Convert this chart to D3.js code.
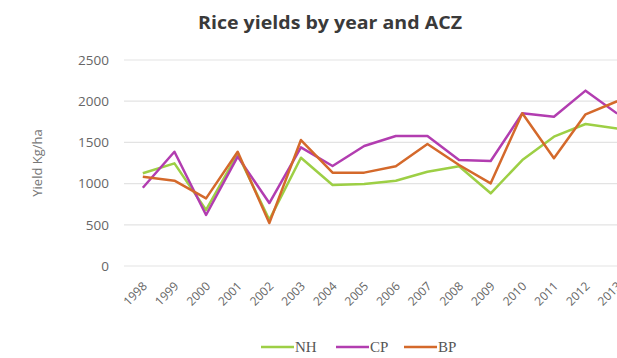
<!DOCTYPE html>
<html><head><meta charset="utf-8">
<script src="https://cdn.jsdelivr.net/npm/d3@7"></script>
<style>body{margin:0;overflow:hidden;background:#fff}</style>
</head><body>
<script>
const years = ["1998","1999","2000","2001","2002","2003","2004","2005","2006","2007","2008","2009","2010","2011","2012","2013"];
const NH = [1125,1246,680,1360,560,1314,983,995,1035,1144,1210,882,1286,1570,1723,1667];
const CP = [950,1387,619,1327,764,1440,1214,1456,1578,1578,1286,1274,1853,1812,2128,1850];
const BP = [1084,1035,821,1387,521,1529,1133,1133,1210,1480,1226,1003,1853,1307,1841,2000];
const yTicks = [0,500,1000,1500,2000,2500];
const seriesNames = ["NH","CP","BP"];
const colors = {NH:"#9DCF45", CP:"#B23DB0", BP:"#D4692B"};
const seriesData = {NH, CP, BP};

const svg = d3.select("body").append("svg").attr("width",640).attr("height",358);
const x = d3.scaleBand().domain(years).range([127,633]);
const y = d3.scaleLinear().domain([0,2500]).range([266,60]);
const cx = d => x(d) + x.bandwidth()/2;

svg.append("text").attr("x",330).attr("y",29).attr("text-anchor","middle")
  .attr("font-family","'Open Sans', sans-serif").attr("font-weight","bold").attr("font-size",18)
  .attr("textLength",264).attr("lengthAdjust","spacingAndGlyphs")
  .attr("fill","#3a3a3a").text("Rice yields by year and ACZ");

// grid
svg.append("g").selectAll("line").data(yTicks).join("line")
  .attr("x1",124).attr("x2",640).attr("y1",d=>y(d)).attr("y2",d=>y(d))
  .attr("stroke","#e3e3e3").attr("stroke-width",1.2);

// y axis labels
const ya = svg.append("g").attr("transform","translate(109,0)")
  .call(d3.axisLeft(y).tickValues(yTicks).tickFormat(d3.format("d")).tickSize(0).tickPadding(0));
ya.select(".domain").remove();
ya.selectAll("text").attr("font-family","'Open Sans', sans-serif").attr("font-size",13.5).attr("fill","#666");

svg.append("text").attr("transform","translate(42,163) rotate(-90)").attr("text-anchor","middle")
  .attr("font-family","'Open Sans', sans-serif").attr("font-size",13).attr("fill","#777").text("Yield Kg/ha");

// x axis labels
const xa = svg.append("g").attr("transform","translate(0,266)")
  .call(d3.axisBottom(x).tickSize(0).tickPadding(0));
xa.select(".domain").remove();
xa.selectAll("text").attr("font-family","'Open Sans', sans-serif").attr("font-size",12).attr("fill","#666")
  .attr("text-anchor","end").attr("dy",0).attr("transform","translate(5,21) rotate(-45)");

// lines
const line = d3.line().x((d,i)=>cx(years[i])).y(d=>y(d));
seriesNames.forEach(n=>{
  svg.append("path").datum(seriesData[n]).attr("d",line).attr("fill","none")
    .attr("stroke",colors[n]).attr("stroke-width",2.5).attr("stroke-linejoin","round");
});

// legend
const lg = svg.append("g");
const lx = [261,336,404];
seriesNames.forEach((n,i)=>{
  lg.append("line").attr("x1",lx[i]).attr("x2",lx[i]+33).attr("y1",347).attr("y2",347)
    .attr("stroke",colors[n]).attr("stroke-width",2.5);
  lg.append("text").attr("x",lx[i]+34).attr("y",352).attr("font-family","'Liberation Serif', serif")
    .attr("font-size",15).attr("fill","#555").text(n);
});
</script>
</body></html>
